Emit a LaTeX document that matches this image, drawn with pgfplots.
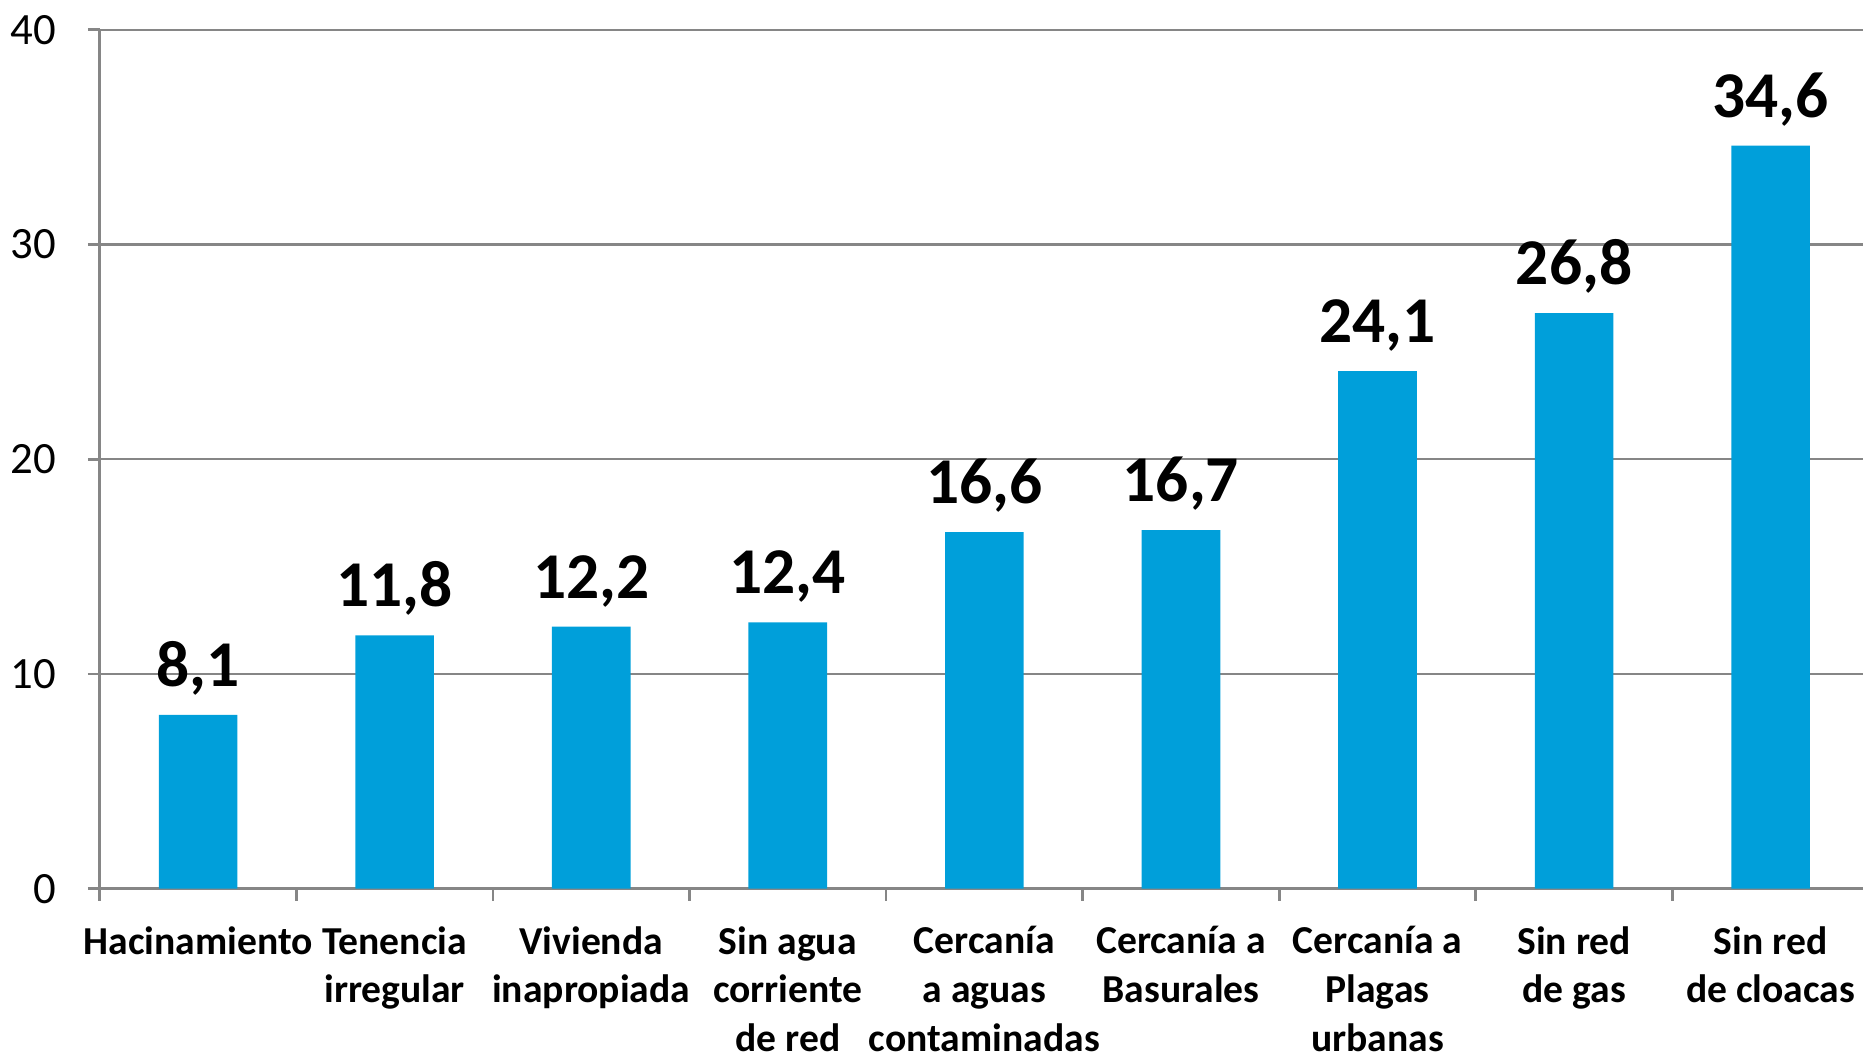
\documentclass[border=0pt]{standalone}
\usepackage{pgfplots}
\pgfplotsset{compat=1.18}
\usepackage{fontspec}
\setmainfont{Carlito}
\definecolor{barblue}{RGB}{0,159,218}
\definecolor{gridgray}{RGB}{134,134,134}
\begin{document}
\begin{tikzpicture}
\begin{axis}[
  name=ax,
  at={(0,0)}, anchor=south west,
  scale only axis,
  width=446.7pt, height=216.9pt,
  xmin=-0.5, xmax=8.5, ymin=0, ymax=40,
  axis x line*=bottom, axis y line*=left,
  axis line style={gridgray, line width=0.7pt},
  ytick={0,10,20,30,40},
  ymajorgrids,
  grid style={gridgray, line width=0.6pt},
  tick align=outside,
  major tick length=3pt,
  tick style={gridgray, line width=0.7pt},
  xtick={-0.5,0.5,...,8.5},
  xticklabels={},
  extra x ticks={0,1,2,3,4,5,6,7,8},
  extra x tick labels={Hacinamiento,{Tenencia\\irregular},{Vivienda\\inapropiada},{Sin agua\\corriente\\de red},{Cercanía\\a aguas\\contaminadas},{Cercanía a\\Basurales},{Cercanía a\\Plagas\\urbanas},{Sin red\\de gas},{Sin red\\de cloacas}},
  extra x tick style={major tick length=0pt, grid=none},
  xticklabel style={font=\fontsize{10}{12.3}\selectfont\bfseries, align=center, anchor=north, yshift=-6pt},
  yticklabel style={font=\fontsize{11.3}{13}\selectfont, xshift=-4.5pt},
  /pgf/number format/assume math mode=true,
  ybar,
  bar width=0.4,
  nodes near coords={\pgfmathprintnumber[fixed,fixed zerofill,precision=1,use comma]{\pgfplotspointmeta}},
  every node near coord/.append style={font=\fontsize{16.5}{18}\selectfont\bfseries, anchor=south, inner sep=0pt, text depth=0pt, yshift=7pt, black},
  clip=false,
]
\addplot[fill=barblue, draw=none] coordinates {
  (0,8.1) (1,11.8) (2,12.2) (3,12.4) (4,16.6) (5,16.7) (6,24.1) (7,26.8) (8,34.6)
};
\end{axis}
\pgfresetboundingbox
\path[use as bounding box] (-25.2pt,-42pt) rectangle (445.2pt,224.4pt);
\end{tikzpicture}
\end{document}
